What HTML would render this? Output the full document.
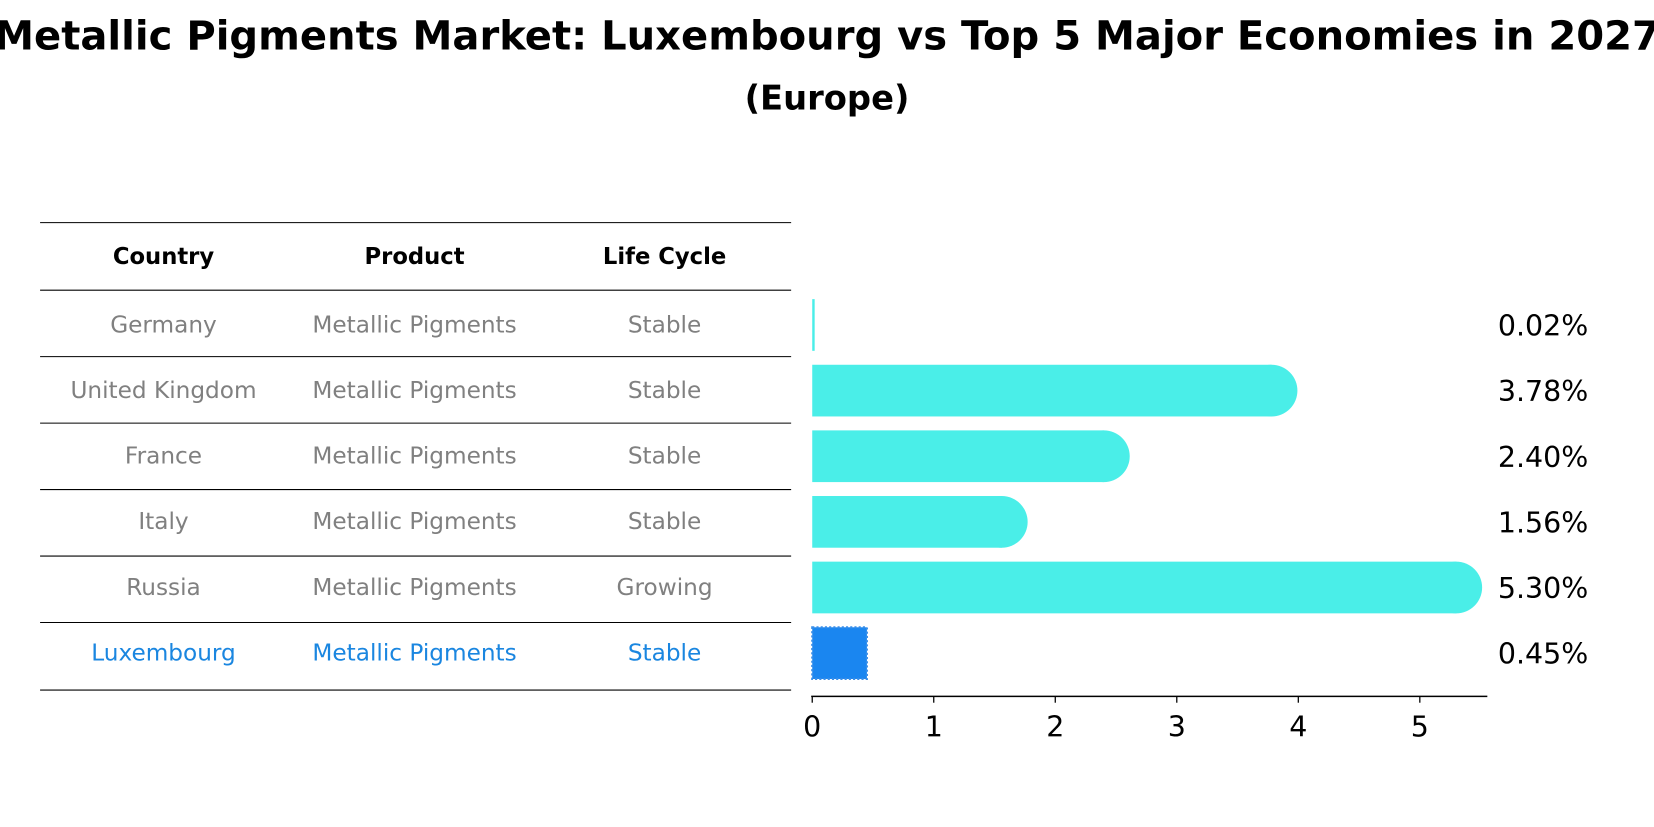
<!DOCTYPE html>
<html><head><meta charset="utf-8"><style>
body{margin:0;background:#fff;font-family:"DejaVu Sans","Liberation Sans",sans-serif;}
svg text{font-family:"DejaVu Sans","Liberation Sans",sans-serif;}
</style></head><body>
<svg id="chart" width="1654" height="823" viewBox="0 0 1568 780" preserveAspectRatio="none" xmlns="http://www.w3.org/2000/svg">
<text x="784" y="47" text-anchor="middle" font-size="38" font-weight="bold">Metallic Pigments Market: Luxembourg vs Top 5 Major Economies in 2027</text>
<text x="784" y="104" text-anchor="middle" font-size="32" font-weight="bold">(Europe)</text>
<g id="table"></g>
<g id="bars"></g>
</svg>
<script>
const countries=["Germany","United Kingdom","France","Italy","Russia","Luxembourg"];
const products=["Metallic Pigments","Metallic Pigments","Metallic Pigments","Metallic Pigments","Metallic Pigments","Metallic Pigments"];
const lifeCycles=["Stable","Stable","Stable","Stable","Growing","Stable"];
const values=[0.02,3.78,2.40,1.56,5.30,0.45];
const valueLabels=["0.02%","3.78%","2.40%","1.56%","5.30%","0.45%"];
const ticks=[0,1,2,3,4,5];

const NS="http://www.w3.org/2000/svg";
function mk(tag,attrs,parent,txt){const e=document.createElementNS(NS,tag);for(const k in attrs)e.setAttribute(k,attrs[k]);if(txt!==undefined)e.textContent=txt;parent.appendChild(e);return e;}
const x=v=>770+v*115.2;
const rowY=i=>308+i*62.2;
const table=document.getElementById('table');
const bars=document.getElementById('bars');
const colX=[155,393,630];
const lineYs=[211,275,338,401,464,527,590,654];
lineYs.forEach(y=>{const l=mk('line',{x1:38,x2:750,y1:y,y2:y,stroke:'#000','stroke-width':1},table);

});
["Country","Product","Life Cycle"].forEach((h,j)=>{const t=mk('text',{x:colX[j],y:250,'text-anchor':'middle','font-size':21.5,'font-weight':'bold'},table,h);

});
countries.forEach((c,i)=>{
 const col=i===5?'#1a86e0':'#808080';
 [c,products[i],lifeCycles[i]].forEach((s,j)=>{const t=mk('text',{x:colX[j],y:rowY(i)+7,'text-anchor':'middle','font-size':22,fill:col},table,s);
 
 });
 const h=49, top=rowY(i)-h/2, w=x(values[i])-x(0);
 if(i===5){
  const r=mk('rect',{x:x(0),y:top,width:w,height:h,fill:'#1a86f0',stroke:'#3a8ee8','stroke-width':2,'stroke-dasharray':'2 2'},bars);
  
  
 } else {
  const g=mk('g',{},bars);
  
  
  mk('rect',{x:x(0),y:top,width:Math.max(w,2),height:h,fill:'#4aeee8'},g);
  if(w>24) mk('circle',{cx:x(values[i]),cy:rowY(i),r:h/2,fill:'#4aeee8'},g);
 }
 const vl=mk('text',{x:1420,y:rowY(i)+10,'font-size':27},bars,valueLabels[i]);
 
 
});
const ax=mk('line',{x1:769,x2:1410,y1:660,y2:660,stroke:'#000','stroke-width':1.5},bars);


ticks.forEach(t=>{const tl=mk('line',{x1:x(t),x2:x(t),y1:660,y2:666,stroke:'#000','stroke-width':1.2},bars);


const tt=mk('text',{x:x(t),y:698,'text-anchor':'middle','font-size':27},bars,String(t));

});
</script>
</body></html>
